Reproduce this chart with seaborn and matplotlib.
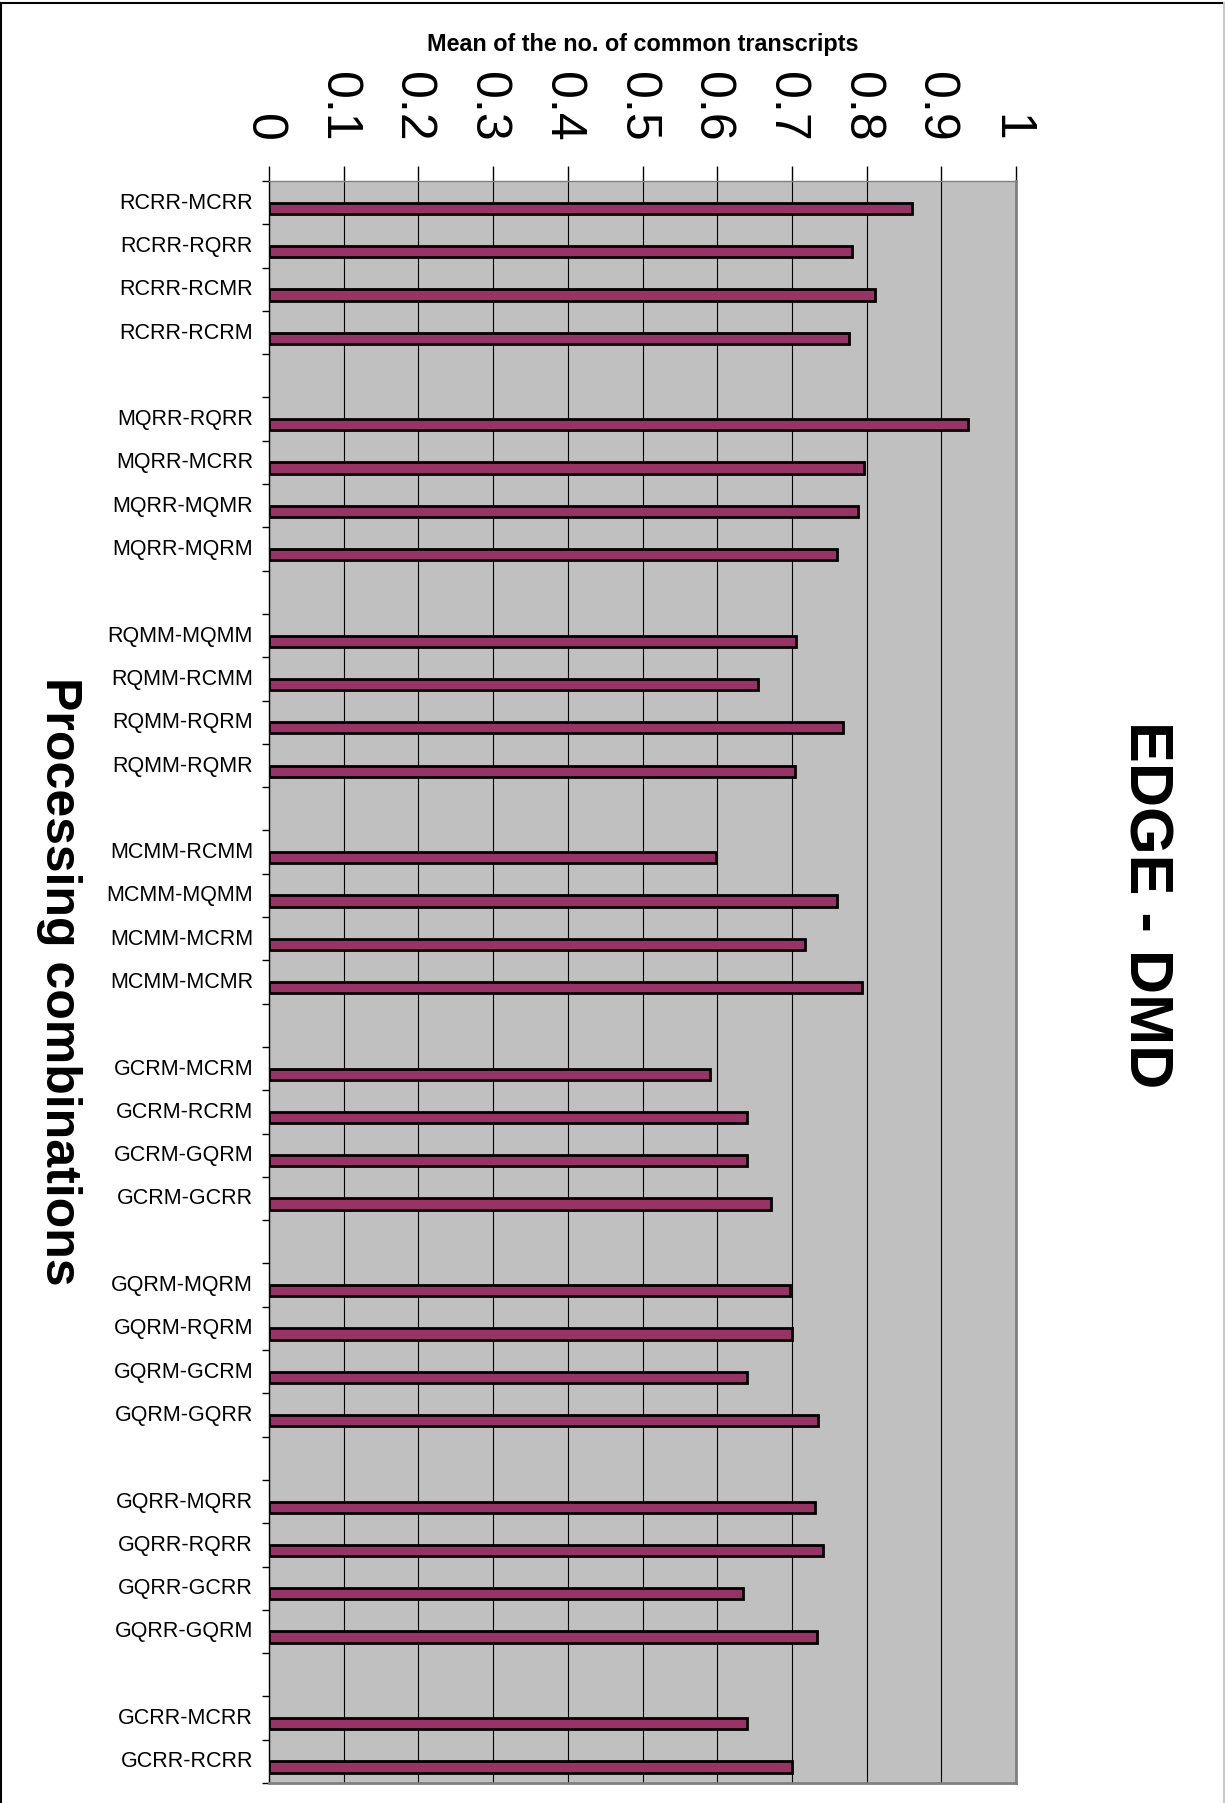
import matplotlib
matplotlib.use("Agg")
import matplotlib.pyplot as plt
import seaborn as sns
import pandas as pd
import numpy as np
from matplotlib.lines import Line2D
from matplotlib.ticker import FixedLocator
from matplotlib.transforms import ScaledTranslation

# ---- data ----
categories = [
    "RCRR-MCRR", "RCRR-RQRR", "RCRR-RCMR", "RCRR-RCRM",
    "MQRR-RQRR", "MQRR-MCRR", "MQRR-MQMR", "MQRR-MQRM",
    "RQMM-MQMM", "RQMM-RCMM", "RQMM-RQRM", "RQMM-RQMR",
    "MCMM-RCMM", "MCMM-MQMM", "MCMM-MCRM", "MCMM-MCMR",
    "GCRM-MCRM", "GCRM-RCRM", "GCRM-GQRM", "GCRM-GCRR",
    "GQRM-MQRM", "GQRM-RQRM", "GQRM-GCRM", "GQRM-GQRR",
    "GQRR-MQRR", "GQRR-RQRR", "GQRR-GCRR", "GQRR-GQRM",
    "GCRR-MCRR", "GCRR-RCRR",
]
values = [
    0.861, 0.781, 0.811, 0.777,
    0.936, 0.797, 0.788, 0.760,
    0.706, 0.655, 0.769, 0.704,
    0.598, 0.760, 0.718, 0.794,
    0.591, 0.640, 0.640, 0.672,
    0.697, 0.700, 0.640, 0.735,
    0.731, 0.741, 0.634, 0.734,
    0.640, 0.700,
]
group_size = 4
x_ticks = [0, 0.1, 0.2, 0.3, 0.4, 0.5, 0.6, 0.7, 0.8, 0.9, 1.0]
x_ticklabels = ["0", "0.1", "0.2", "0.3", "0.4", "0.5", "0.6", "0.7", "0.8", "0.9", "1"]
series_names = ["hidden", "Mean"]

# ---- build order with empty separator rows between groups ----
order = []
gap_i = 0
for i, c in enumerate(categories):
    if i > 0 and i % group_size == 0:
        gap_i += 1
        order.append(" " * gap_i)
    order.append(c)

df = pd.DataFrame({"combo": categories, "value": values, "series": series_names[1]})

# ---- figure ----
W, H = 1225, 1803
fig = plt.figure(figsize=(W / 100, H / 100), dpi=100)
plt.rcParams['font.family'] = ['Liberation Sans', 'DejaVu Sans']

L, R, T, B = 269, 1016, 181, 1783
ax = fig.add_axes([L / W, 1 - B / H, (R - L) / W, (B - T) / H])
ax.set_facecolor("#C0C0C0")

sns.barplot(data=df, y="combo", x="value", hue="series", hue_order=series_names,
            order=order, palette={"hidden": "white", "Mean": "#993366"},
            orient="h", width=0.52, dodge=True, errorbar=None, legend=False,
            edgecolor="black", linewidth=2.0, saturation=1, ax=ax)

n = len(order)
ax.set_xlim(0, 1)
ax.set_ylim(n - 0.5, -0.5)

# x axis on top
ax.xaxis.tick_top()
ax.set_xticks(x_ticks)
ax.set_xticklabels(x_ticklabels, rotation=-90, fontsize=36)
ax.tick_params(axis='x', top=True, bottom=False, labeltop=True, labelbottom=False,
               length=11, width=1, pad=17, direction='out', color='black')
shift = ScaledTranslation(-6 / 100, 0, fig.dpi_scale_trans)
for lab in ax.get_xticklabels():
    lab.set_transform(lab.get_transform() + shift)
ax.grid(axis='x', color='black', linewidth=0.8)
ax.grid(axis='y', visible=False)
ax.set_axisbelow(True)

# y ticks: labels at centers, tick marks at slot boundaries
ax.tick_params(axis='y', which='major', length=0, pad=11.5, labelsize=15.5)
ax.yaxis.set_minor_locator(FixedLocator(np.arange(-0.5, n, 1.0)))
ax.tick_params(axis='y', which='minor', length=5, width=1, direction='out', color='black')
yshift = ScaledTranslation(0, 2 / 100, fig.dpi_scale_trans)
for lab in ax.get_yticklabels():
    lab.set_transform(lab.get_transform() + yshift)

# spines
ax.spines['left'].set_color('black')
ax.spines['left'].set_linewidth(1)
ax.spines['top'].set_color('#808080')
ax.spines['top'].set_linewidth(1)
for s in ['right', 'bottom']:
    ax.spines[s].set_color('#808080')
    ax.spines[s].set_linewidth(2)

# axis labels
ax.set_xlabel("Mean of the no. of common transcripts", fontsize=16.8, fontweight='bold')
ax.xaxis.set_label_position('top')
ax.xaxis.set_label_coords(0.5, (B - 45) / (B - T))
ax.xaxis.label.set_verticalalignment('center')

ax.set_ylabel("Processing combinations", fontsize=36, fontweight='bold', rotation=-90)
ax.yaxis.set_label_coords((59 - L) / (R - L), (B - 981.5) / (B - T))
ax.yaxis.label.set_verticalalignment('center')
ax.yaxis.label.set_horizontalalignment('center')

fig.text(1145 / W, 1 - 904.5 / H, "EDGE - DMD", rotation=-90, fontsize=44,
         fontweight='bold', ha='center', va='center')

# outer frame
fig.add_artist(Line2D([1 / W, 1 / W], [0, 1 - 3 / H], color='black', lw=1.5, transform=fig.transFigure))
fig.add_artist(Line2D([0, 1], [1 - 3 / H, 1 - 3 / H], color='black', lw=1.5, transform=fig.transFigure))
fig.add_artist(Line2D([1 - 1 / W, 1 - 1 / W], [0, 1 - 3 / H], color='#C8C8C8', lw=1.5, transform=fig.transFigure))

fig.savefig("out.png", dpi=100, facecolor='white')
